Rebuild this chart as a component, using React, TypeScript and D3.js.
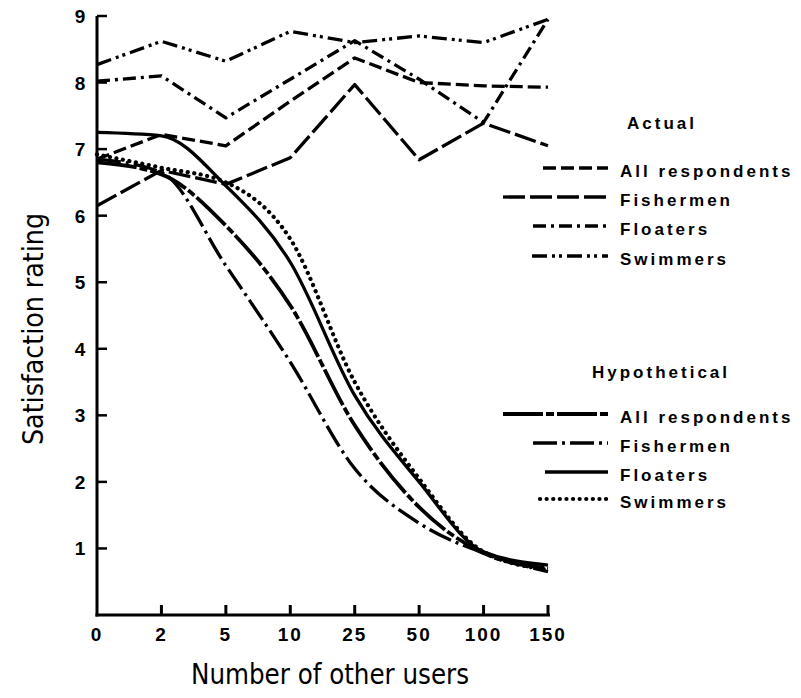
import React from 'react';
import * as d3 from 'd3';

const width = 801;
const height = 698;

// x categories (number of other users) and y ticks
const categories = ['0', '2', '5', '10', '25', '50', '100', '150'];
const yTicks = [1, 2, 3, 4, 5, 6, 7, 8, 9];

// actual satisfaction ratings
const actualAll = [6.85, 7.22, 7.05, 7.72, 8.37, 8.0, 7.95, 7.93];
const actualFishermen = [6.15, 6.68, 6.47, 6.87, 7.97, 6.84, 7.39, 7.05];
const actualFloaters = [8.02, 8.1, 7.47, 8.05, 8.63, 8.05, 7.4, 8.95];
const actualSwimmers = [8.27, 8.62, 8.32, 8.77, 8.6, 8.7, 8.6, 8.95];

// hypothetical satisfaction ratings
const hypAll = [6.8, 6.62, 5.85, 4.65, 2.85, 1.62, 0.93, 0.7];
const hypFishermen = [6.85, 6.65, 5.25, 3.8, 2.2, 1.38, 0.93, 0.65];
const hypFloaters = [7.25, 7.2, 6.45, 5.3, 3.3, 2.0, 0.95, 0.75];
const hypSwimmers = [6.92, 6.72, 6.5, 5.65, 3.5, 2.05, 0.95, 0.68];

const x = d3.scalePoint<string>().domain(categories).range([97, 548]);
const y = d3.scaleLinear().domain([0, 9]).range([615, 16]);

const straight = d3.line<number>().x((_, i) => x(categories[i])!).y(d => y(d));
const smooth = d3.line<number>().x((_, i) => x(categories[i])!).y(d => y(d)).curve(d3.curveMonotoneX);

const boldFont = "'Liberation Sans', Arial, sans-serif";
const narrowFont = "'Liberation Sans Narrow', 'DejaVu Sans Condensed', 'Liberation Sans', sans-serif";

type Series = { name: string; values: number[]; dash: string; width: number; cap?: string; curved: boolean; legendX: number };

const actualSeries: Series[] = [
  { name: 'All respondents', values: actualAll, dash: '13 5', width: 3.3, curved: false, legendX: 543 },
  { name: 'Fishermen', values: actualFishermen, dash: '22 5', width: 3.3, curved: false, legendX: 503 },
  { name: 'Floaters', values: actualFloaters, dash: '13 5 3 5', width: 3.3, curved: false, legendX: 533 },
  { name: 'Swimmers', values: actualSwimmers, dash: '15 5 3 4 3 5', width: 3.3, curved: false, legendX: 532 },
];

const hypSeries: Series[] = [
  { name: 'All respondents', values: hypAll, dash: '40 3 8 3', width: 3.8, curved: true, legendX: 503 },
  { name: 'Fishermen', values: hypFishermen, dash: '24 5 3 5', width: 3.3, curved: true, legendX: 533 },
  { name: 'Floaters', values: hypFloaters, dash: '', width: 3.3, curved: true, legendX: 545 },
  { name: 'Swimmers', values: hypSwimmers, dash: '0.1 6.5', width: 4.2, cap: 'round', curved: true, legendX: 540 },
];

const actualLegendY = [168, 197, 226, 256];
const hypLegendY = [414, 443, 472, 499];

function Legend({ title, titleX, titleY, series, rows }: { title: string; titleX: number; titleY: number; series: Series[]; rows: number[] }) {
  return (
    <g>
      <text x={titleX} y={titleY + 6} fontFamily={boldFont} fontWeight="bold" fontSize={17} letterSpacing={3}>{title}</text>
      {series.map((s, i) => (
        <g key={s.name}>
          <line x1={s.legendX} x2={608} y1={rows[i]} y2={rows[i]} stroke="#000" strokeWidth={s.width}
            strokeDasharray={s.dash || undefined} strokeLinecap={(s.cap as any) || 'butt'} />
          <text x={620} y={rows[i] + 9} fontFamily={boldFont} fontWeight="bold" fontSize={17} letterSpacing={3}>{s.name}</text>
        </g>
      ))}
    </g>
  );
}

export default function App() {
  const y0 = y(0);
  return (
    <svg width={width} height={height} style={{ position: 'absolute', left: 0, top: 0, background: '#fff' }}>
      {/* axes */}
      <line x1={97} x2={97} y1={y(9)} y2={y0 + 1.5} stroke="#000" strokeWidth={3} />
      <line x1={95.5} x2={550} y1={y0} y2={y0} stroke="#000" strokeWidth={3} />
      {yTicks.map(t => (
        <g key={t}>
          <line x1={97} x2={107} y1={y(t)} y2={y(t)} stroke="#000" strokeWidth={2.5} />
          <text x={80} y={y(t) + 7} textAnchor="middle" fontFamily={boldFont} fontWeight="bold" fontSize={19}>{t}</text>
        </g>
      ))}
      {categories.map(c => (
        <g key={c}>
          {c !== '0' && <line x1={x(c)} x2={x(c)} y1={y0} y2={y0 - 10} stroke="#000" strokeWidth={3} />}
          <text x={x(c)} y={y0 + 26} textAnchor="middle" fontFamily={boldFont} fontWeight="bold" fontSize={19} letterSpacing={2}>{c}</text>
        </g>
      ))}

      {/* axis titles */}
      <text transform="translate(43,329) rotate(-90)" textAnchor="middle" fontFamily={narrowFont} fontSize={29}
        textLength={232} lengthAdjust="spacingAndGlyphs">Satisfaction rating</text>
      <text x={330} y={684} textAnchor="middle" fontFamily={narrowFont} fontSize={29}
        textLength={278} lengthAdjust="spacingAndGlyphs">Number of other users</text>

      {/* data lines */}
      {[...actualSeries, ...hypSeries].map((s, i) => (
        <path key={i} d={(s.curved ? smooth : straight)(s.values) || ''} fill="none" stroke="#000"
          strokeWidth={s.width} strokeDasharray={s.dash || undefined} strokeLinecap={(s.cap as any) || 'butt'} strokeLinejoin="round" />
      ))}

      <Legend title="Actual" titleX={627} titleY={123} series={actualSeries} rows={actualLegendY} />
      <Legend title="Hypothetical" titleX={592} titleY={372} series={hypSeries} rows={hypLegendY} />
    </svg>
  );
}
